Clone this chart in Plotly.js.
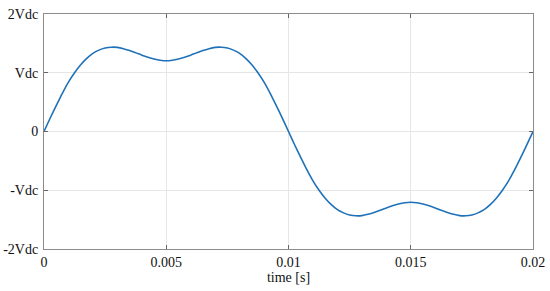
<!DOCTYPE html>
<html>
<head>
<meta charset="utf-8">
<script src="https://cdn.plot.ly/plotly-3.0.1.min.js"></script>
<style>
  html, body { margin: 0; padding: 0; background: #fff; }
  #plot { width: 550px; height: 291px; }
</style>
</head>
<body>
<div id="plot"></div>
<script>
// time samples [s] and output voltage in units of Vdc
var time = [
  0, 0.00025, 0.0005, 0.00075, 0.001, 0.00125, 0.0015, 0.00175, 0.002, 0.00225,
  0.0025, 0.00275, 0.003, 0.00325, 0.0035, 0.00375, 0.004, 0.00425, 0.0045, 0.00475,
  0.005, 0.00525, 0.0055, 0.00575, 0.006, 0.00625, 0.0065, 0.00675, 0.007, 0.00725,
  0.0075, 0.00775, 0.008, 0.00825, 0.0085, 0.00875, 0.009, 0.00925, 0.0095, 0.00975,
  0.01, 0.01025, 0.0105, 0.01075, 0.011, 0.01125, 0.0115, 0.01175, 0.012, 0.01225,
  0.0125, 0.01275, 0.013, 0.01325, 0.0135, 0.01375, 0.014, 0.01425, 0.0145, 0.01475,
  0.015, 0.01525, 0.0155, 0.01575, 0.016, 0.01625, 0.0165, 0.01675, 0.017, 0.01725,
  0.0175, 0.01775, 0.018, 0.01825, 0.0185, 0.01875, 0.019, 0.01925, 0.0195, 0.01975,
  0.02
];
var voltage = [
  0, 0.225, 0.44, 0.65, 0.84, 1.0, 1.135, 1.245, 1.33, 1.385,
  1.42, 1.435, 1.432, 1.41, 1.377, 1.34, 1.3, 1.265, 1.235, 1.213,
  1.203, 1.213, 1.235, 1.265, 1.3, 1.34, 1.377, 1.41, 1.432, 1.435,
  1.42, 1.385, 1.33, 1.245, 1.135, 1.0, 0.84, 0.65, 0.44, 0.225,
  0, -0.225, -0.44, -0.65, -0.84, -1.0, -1.135, -1.245, -1.33, -1.385,
  -1.42, -1.435, -1.432, -1.41, -1.377, -1.34, -1.3, -1.265, -1.235, -1.213,
  -1.203, -1.213, -1.235, -1.265, -1.3, -1.34, -1.377, -1.41, -1.432, -1.435,
  -1.42, -1.385, -1.33, -1.245, -1.135, -1.0, -0.84, -0.65, -0.44, -0.225,
  0
];

var xTicks = [0, 0.005, 0.01, 0.015, 0.02];
var xTickText = ['0', '0.005', '0.01', '0.015', '0.02'];
var yTicks = [-2, -1, 0, 1, 2];
var yTickText = ['-2Vdc', '-Vdc', '0', 'Vdc', '2Vdc'];

var trace = {
  x: time, y: voltage,
  mode: 'lines',
  type: 'scatter',
  line: {color: '#1f72b8', width: 1.6, shape: 'spline', smoothing: 0.6},
  hoverinfo: 'none'
};

var fontSerif = {family: 'Times New Roman, DejaVu Serif, serif', size: 14, color: '#111'};

var layout = {
  width: 550,
  height: 291,
  margin: {l: 44, r: 17, t: 14, b: 42},
  paper_bgcolor: '#fff',
  plot_bgcolor: '#fff',
  showlegend: false,
  font: fontSerif,
  xaxis: {
    range: [0, 0.02],
    tickvals: xTicks,
    ticktext: xTickText,
    showgrid: true,
    gridcolor: '#e6e6e6',
    gridwidth: 1,
    zeroline: false,
    showline: true,
    linecolor: '#8c8c8c',
    linewidth: 1,
    mirror: 'ticks',
    ticks: 'inside',
    ticklen: 4,
    tickcolor: '#666',
    tickfont: fontSerif,
    title: {text: 'time [s]', font: fontSerif, standoff: 2}
  },
  yaxis: {
    range: [-2, 2],
    tickvals: yTicks,
    ticktext: yTickText,
    showgrid: true,
    gridcolor: '#e6e6e6',
    gridwidth: 1,
    zeroline: false,
    showline: true,
    linecolor: '#8c8c8c',
    linewidth: 1,
    mirror: 'ticks',
    ticks: 'inside',
    ticklen: 4,
    tickcolor: '#666',
    tickfont: fontSerif,
    ticklabelstandoff: 2
  }
};

Plotly.newPlot('plot', [trace], layout, {staticPlot: true, displayModeBar: false});
</script>
</body>
</html>
